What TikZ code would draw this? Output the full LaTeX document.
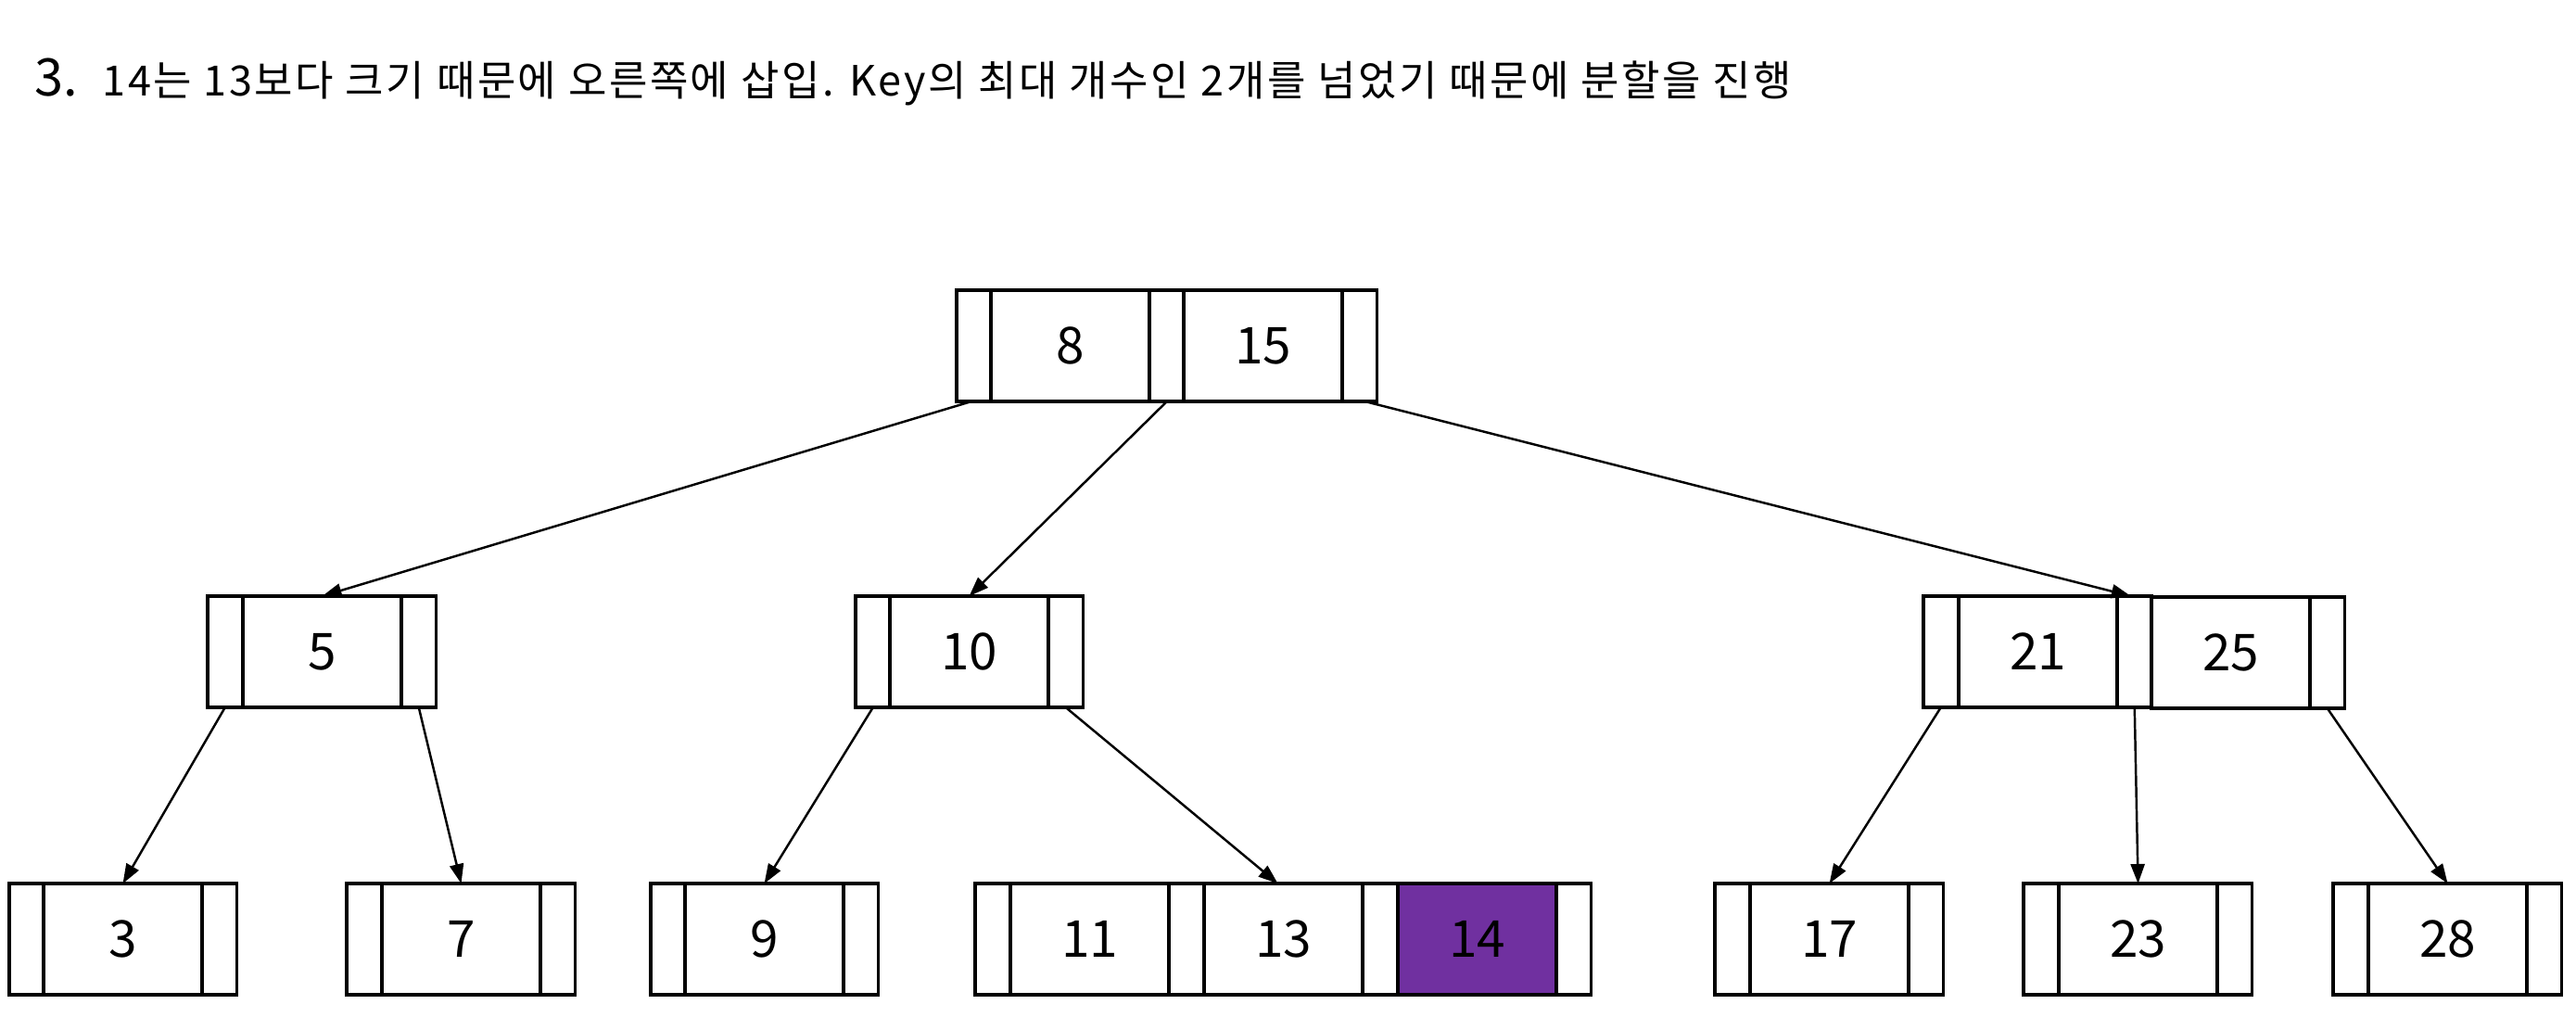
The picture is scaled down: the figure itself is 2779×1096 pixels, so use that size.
\documentclass[tikz,border=0pt]{standalone}
\usepackage{fontspec}
\setmainfont{Noto Sans CJK KR}
\newfontfamily\titlefont[LetterSpace=5.7]{Noto Sans CJK KR}
\usetikzlibrary{arrows.meta}
\definecolor{keypurple}{HTML}{7030A0}
\begin{document}
\begin{tikzpicture}[x=0.01cm,y=-0.01cm,
  cell/.style={draw, line width=0.95pt, inner sep=0pt, outer sep=0pt, minimum height=1.2cm, anchor=north west, font=\fontsize{15.6}{18}\selectfont},
  ptr/.style={cell, minimum width=0.375cm},
  key/.style={cell, minimum width=1.71cm},
  newkey/.style={key, fill=keypurple},
  arr/.style={line width=0.7pt, -{Triangle[length=0.21cm,width=0.15cm]}},
  ttl/.style={anchor=base west, inner sep=0pt}]
\useasboundingbox (0,0) rectangle (2779,1096);

% title
\node[ttl, font=\fontsize{15.9}{18}\selectfont] (tnum) at (37,103) {3.};
\node[ttl, font=\titlefont\fontsize{12.8}{15}\selectfont] (ttext) at (110,103) {14는 13보다 크기 때문에 오른쪽에 삽입. Key의 최대 개수인 2개를 넘었기 때문에 분할을 진행};

% root
\node[ptr] (r-p0) at (1032,313) {};
\node[key] (r-k8) at (1069,313) {8};
\node[ptr] (r-p1) at (1240,313) {};
\node[key] (r-k15) at (1277,313) {15};
\node[ptr] (r-p2) at (1448,313) {};

% level 2
\node[ptr] (a-p0) at (224,643) {};
\node[key] (a-k5) at (262,643) {5};
\node[ptr] (a-p1) at (433,643) {};

\node[ptr] (b-p0) at (923,643) {};
\node[key] (b-k10) at (960,643) {10};
\node[ptr] (b-p1) at (1131,643) {};

\node[ptr] (c-p0) at (2075,643) {};
\node[key] (c-k21) at (2113,643) {21};
\node[ptr] (c-p1) at (2284,643) {};
\node[key] (c-k25) at (2321,644) {25};
\node[ptr] (c-p2) at (2492,644) {};

% leaves
\node[ptr] (l3-p0) at (10,953) {};
\node[key] (l3-k) at (47,953) {3};
\node[ptr] (l3-p1) at (218,953) {};

\node[ptr] (l7-p0) at (374,953) {};
\node[key] (l7-k) at (412,953) {7};
\node[ptr] (l7-p1) at (583,953) {};

\node[ptr] (l9-p0) at (702,953) {};
\node[key] (l9-k) at (739,953) {9};
\node[ptr] (l9-p1) at (910,953) {};

\node[ptr] (lm-p0) at (1052,953) {};
\node[key] (lm-k11) at (1090,953) {11};
\node[ptr] (lm-p1) at (1261,953) {};
\node[key] (lm-k13) at (1299,953) {13};
\node[ptr] (lm-p2) at (1470,953) {};
\node[newkey] (lm-k14) at (1508,953) {14};
\node[ptr] (lm-p3) at (1679,953) {};

\node[ptr] (l17-p0) at (1850,953) {};
\node[key] (l17-k) at (1888,953) {17};
\node[ptr] (l17-p1) at (2059,953) {};

\node[ptr] (l23-p0) at (2183,953) {};
\node[key] (l23-k) at (2221,953) {23};
\node[ptr] (l23-p1) at (2392,953) {};

\node[ptr] (l28-p0) at (2517,953) {};
\node[key] (l28-k) at (2555,953) {28};
\node[ptr] (l28-p1) at (2726,953) {};

% connectors
\draw[arr] ([xshift=-0.03cm]r-p0.south) -- (a-k5.north);
\draw[arr] (r-p1.south) -- (b-k10.north);
\draw[arr] ([xshift=0.06cm]r-p2.south) -- ([xshift=-0.04cm]c-p1.north);
\draw[arr] (a-p0.south) -- (l3-k.north);
\draw[arr] (a-p1.south) -- (l7-k.north);
\draw[arr] (b-p0.south) -- (l9-k.north);
\draw[arr] (b-p1.south) -- ([xshift=-0.06cm]lm-k13.north);
\draw[arr] (c-p0.south) -- (l17-k.north);
\draw[arr] (c-p1.south) -- (l23-k.north);
\draw[arr] (c-p2.south) -- (l28-k.north);
\end{tikzpicture}
\end{document}
